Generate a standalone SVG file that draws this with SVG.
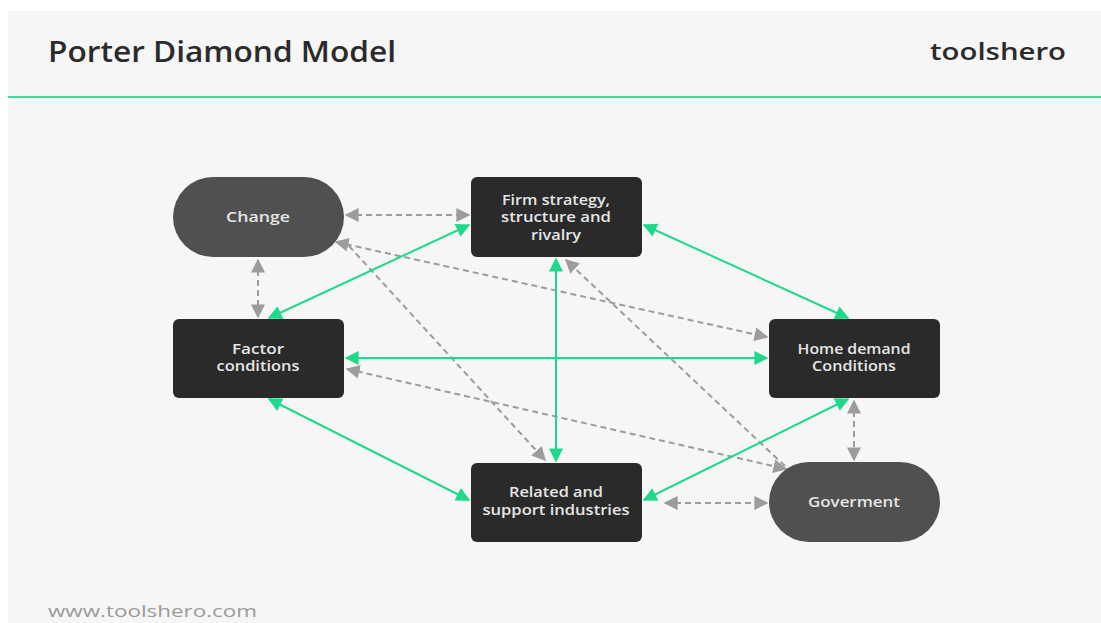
<svg xmlns="http://www.w3.org/2000/svg" width="1101" height="623" viewBox="0 0 1101 623">
<style>
.title{font-family:"Open Sans","Liberation Sans",sans-serif;font-weight:600;fill:#2b2b2b}
.lbl{font-family:"Open Sans","Liberation Sans",sans-serif;font-weight:600;font-size:14px;fill:#e6e6e6;text-anchor:middle}
.box{fill:#2a2a2a}
.pill{fill:#505050}
.g{stroke:#1fd98a;stroke-width:2;fill:none;marker-start:url(#ga);marker-end:url(#ga)}
.d{stroke:#9c9c9c;stroke-width:2;stroke-dasharray:6 4;fill:none}
.d2{marker-start:url(#da);marker-end:url(#da)}
.d1{marker-end:url(#da)}
</style>
<defs>
<marker id="ga" viewBox="0 0 10 10" refX="9" refY="5" markerWidth="8" markerHeight="7" markerUnits="strokeWidth" orient="auto-start-reverse"><path d="M0,0 L10,5 L0,10 z" fill="#1fd98a"/></marker>
<marker id="da" viewBox="0 0 10 10" refX="9" refY="5" markerWidth="7" markerHeight="7" markerUnits="strokeWidth" orient="auto-start-reverse"><path d="M0,0 L10,5 L0,10 z" fill="#9c9c9c"/></marker>
</defs>
<rect x="0" y="0" width="1101" height="623" fill="#ffffff"/>
<rect x="8" y="11" width="1093" height="612" fill="#f6f6f6"/>
<line x1="8" y1="97" x2="1101" y2="97" stroke="#3ddc97" stroke-width="2"/>
<text class="title" x="48" y="62" font-size="28" textLength="348" lengthAdjust="spacingAndGlyphs">Porter Diamond Model</text>
<text class="title" x="930" y="60" font-size="24" textLength="136" lengthAdjust="spacingAndGlyphs">toolshero</text>
<text x="48" y="617" font-family="'Open Sans','Liberation Sans',sans-serif" font-size="17" fill="#9a9a9a" textLength="209" lengthAdjust="spacingAndGlyphs">www.toolshero.com</text>

<g id="connectors">
<line class="d d2" x1="346" y1="215" x2="469" y2="215"/>
<line class="d d2" x1="258" y1="260" x2="258" y2="317"/>
<line class="d d2" x1="336" y1="242" x2="767" y2="337"/>
<line class="d d1" x1="349" y1="246" x2="545" y2="460"/>
<line class="d d2" x1="347" y1="369" x2="786" y2="469"/>
<line class="d d1" x1="785" y1="466" x2="566" y2="260"/>
<line class="d d2" x1="854" y1="401" x2="854" y2="460"/>
<line class="d d2" x1="665" y1="503" x2="767" y2="503"/>
<line class="g" x1="269" y1="318" x2="469" y2="225"/>
<line class="g" x1="644" y1="225" x2="848" y2="318"/>
<line class="g" x1="346" y1="358" x2="767" y2="358"/>
<line class="g" x1="556" y1="259" x2="556" y2="461"/>
<line class="g" x1="269" y1="399" x2="469" y2="500"/>
<line class="g" x1="848" y1="399" x2="644" y2="500"/>
</g>

<g id="change"><rect class="pill" x="173" y="177" width="171" height="80" rx="40"/><text class="lbl" x="258" y="222" textLength="64" lengthAdjust="spacingAndGlyphs">Change</text></g>
<g id="firm"><rect class="box" x="471" y="177" width="171" height="80" rx="6"/><text class="lbl" x="556" y="205" textLength="108" lengthAdjust="spacingAndGlyphs">Firm strategy,</text><text class="lbl" x="556" y="222" textLength="110" lengthAdjust="spacingAndGlyphs">structure and</text><text class="lbl" x="556" y="240" textLength="50" lengthAdjust="spacingAndGlyphs">rivalry</text></g>
<g id="factor"><rect class="box" x="173" y="319" width="171" height="79" rx="6"/><text class="lbl" x="258" y="354" textLength="52" lengthAdjust="spacingAndGlyphs">Factor</text><text class="lbl" x="258" y="371" textLength="83" lengthAdjust="spacingAndGlyphs">conditions</text></g>
<g id="home"><rect class="box" x="769" y="319" width="171" height="79" rx="6"/><text class="lbl" x="854" y="354" textLength="113" lengthAdjust="spacingAndGlyphs">Home demand</text><text class="lbl" x="854" y="371" textLength="84" lengthAdjust="spacingAndGlyphs">Conditions</text></g>
<g id="related"><rect class="box" x="471" y="463" width="171" height="79" rx="6"/><text class="lbl" x="556" y="497" textLength="94" lengthAdjust="spacingAndGlyphs">Related and</text><text class="lbl" x="556" y="515" textLength="147" lengthAdjust="spacingAndGlyphs">support industries</text></g>
<g id="gov"><rect class="pill" x="769" y="462" width="171" height="80" rx="40"/><text class="lbl" x="854" y="507" textLength="92" lengthAdjust="spacingAndGlyphs">Goverment</text></g>
</svg>
